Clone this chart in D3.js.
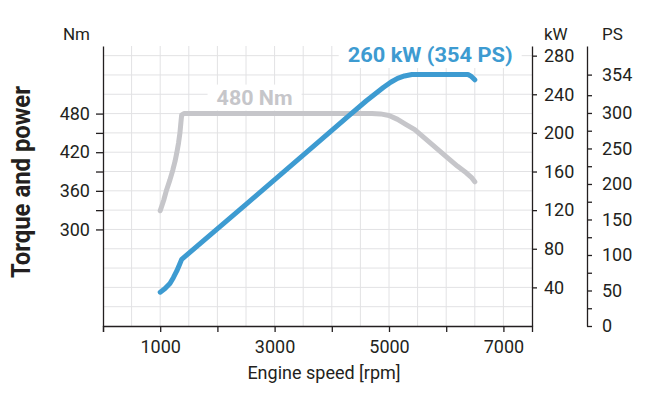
<!DOCTYPE html>
<html>
<head>
<meta charset="utf-8">
<script src="https://cdn.jsdelivr.net/npm/d3@7"></script>
<style>
  body { margin: 0; background: #fff; }
  text { font-family: Roboto, "Liberation Sans", sans-serif; fill: #231f20; }
</style>
</head>
<body>
<div id="plot"></div>
<script>
// torque curve (Nm) and power curve (kW) over engine speed
const torqueRpm = [1000, 1060, 1110, 1170, 1220, 1260, 1290, 1320, 1345, 1362, 1375, 1420, 4700, 4850, 5000, 5150, 5300, 5450, 5700, 6000, 6200, 6350, 6440, 6500];
const torqueNm  = [329, 345, 361, 377, 392, 406, 419, 434, 450, 466, 478, 480, 480, 479.5, 477, 471, 463, 455, 436, 413, 398, 388, 381, 374];

const powerRpm = [1000, 1080, 1170, 1230, 1290, 1340, 1375, 2500, 3500, 4300, 4600, 4750, 4900, 5030, 5150, 5270, 5400, 6380, 6440, 6500];
const powerKw  = [35, 38.5, 44, 50, 57, 64, 69, 126, 177, 218, 233, 240, 247, 252.5, 256.5, 259, 260.5, 260.5, 258.5, 255];

const rpmTicks = [0, 1000, 2000, 3000, 4000, 5000, 6000, 7000];
const rpmLabels = [1000, 3000, 5000, 7000];
const nmTicks = [300, 330, 360, 390, 420, 450, 480];
const nmLabels = [300, 360, 420, 480];
const kwTicks = [40, 80, 120, 160, 200, 240, 280];
const psTicks = [0, 25, 50, 75, 100, 125, 150, 175, 200, 225, 250, 275, 300, 325, 354];
const psLabels = [0, 50, 100, 150, 200, 250, 300, 354];

const w = 650;
const h = 395;
const margin = {top: 46, right: 118, bottom: 69, left: 103};
const innerWidth = w - margin.left - margin.right;
const innerHeight = h - margin.top - margin.bottom;

const blue = "#3d9bd1";
const grey = "#c6c6ca";
const ink = "#231f20";

const svg = d3.select("div#plot")
    .append("svg")
    .attr("width", w)
    .attr("height", h);

const xScale = d3.scaleLinear().domain([0, 7500]).range([0, innerWidth]);
const kwMax = 290;
const yKw = d3.scaleLinear().domain([0, kwMax]).range([innerHeight, 0]);
// 60 Nm per 40 kW, 150 Nm at the bottom
const yNm = d3.scaleLinear().domain([150, 150 + 1.5 * kwMax]).range([innerHeight, 0]);
const yPs = d3.scaleLinear().domain([0, kwMax * 1.35962]).range([innerHeight, 0]);

const plot = svg.append("g")
    .attr("transform", `translate (${margin.left}, ${margin.top})`);

// grid
plot.append("g")
  .selectAll("line")
  .data(d3.range(500, 7001, 500))
  .enter().append("line")
    .attr("x1", d => xScale(d))
    .attr("x2", d => xScale(d))
    .attr("y1", 0)
    .attr("y2", innerHeight)
    .attr("stroke", "#e2e2e4")
    .attr("stroke-width", 1);

plot.append("g")
  .selectAll("line")
  .data(d3.range(20, 281, 20))
  .enter().append("line")
    .attr("x1", 0)
    .attr("x2", innerWidth)
    .attr("y1", d => yKw(d))
    .attr("y2", d => yKw(d))
    .attr("stroke", "#e2e2e4")
    .attr("stroke-width", 1);

// curves
const torqueLine = d3.line()
    .x(d => xScale(d[0]))
    .y(d => yNm(d[1]));

const powerLine = d3.line()
    .x(d => xScale(d[0]))
    .y(d => yKw(d[1]));

plot.append("path")
    .datum(d3.zip(torqueRpm, torqueNm))
    .attr("d", torqueLine)
    .attr("fill", "none")
    .attr("stroke", grey)
    .attr("stroke-width", 5)
    .attr("stroke-linecap", "round")
    .attr("stroke-linejoin", "round");

plot.append("path")
    .datum(d3.zip(powerRpm, powerKw))
    .attr("d", powerLine)
    .attr("fill", "none")
    .attr("stroke", blue)
    .attr("stroke-width", 5)
    .attr("stroke-linecap", "round")
    .attr("stroke-linejoin", "round");

// curve labels on white boxes
function boxedLabel(x, y, str, color, len) {
  const g = plot.append("g");
  const rect = g.append("rect").attr("fill", "#fff");
  const t = g.append("text")
      .attr("x", x)
      .attr("y", y)
      .attr("text-anchor", "middle")
      .attr("font-size", 20)
      .attr("font-weight", "bold")
      .attr("textLength", len)
      .attr("lengthAdjust", "spacingAndGlyphs")
      .style("fill", color)
      .text(str);
  const b = t.node().getBBox();
  rect.attr("x", b.x - 9).attr("y", b.y - 1)
      .attr("width", b.width + 18).attr("height", b.height + 2);
}

boxedLabel(xScale(2650), yNm(480) - 9, "480 Nm", grey, 76);
boxedLabel(xScale(5720), yKw(260) - 13, "260 kW (354 PS)", blue, 165);

// axes
const xAxis = d3.axisBottom(xScale)
    .tickValues(rpmTicks)
    .tickSize(6)
    .tickSizeOuter(6)
    .tickPadding(8)
    .tickFormat(d => rpmLabels.includes(d) ? d : "");

const nmAxis = d3.axisLeft(yNm)
    .tickValues(nmTicks)
    .tickSize(7)
    .tickSizeOuter(0)
    .tickPadding(6)
    .tickFormat(d => nmLabels.includes(d) ? d : "");

const kwAxis = d3.axisRight(yKw)
    .tickValues(kwTicks)
    .tickSize(5)
    .tickSizeOuter(0)
    .tickPadding(7);

const psAxis = d3.axisRight(yPs)
    .tickValues(psTicks)
    .tickSize(5)
    .tickSizeOuter(0)
    .tickPadding(10)
    .tickFormat(d => psLabels.includes(d) ? d : "");

function styleAxis(g) {
  g.selectAll("path, line").attr("stroke", ink).attr("stroke-width", 1.3);
  g.selectAll("text")
      .attr("font-size", 18)
      .attr("font-family", "Roboto, sans-serif")
      .attr("fill", ink);
  // drop the blank labels of the minor ticks
  g.selectAll("text").filter(function() { return this.textContent === ""; }).remove();
}

svg.append("g")
    .attr("transform", `translate (${margin.left}, ${margin.top + innerHeight})`)
    .call(xAxis)
    .call(styleAxis);

svg.append("g")
    .attr("transform", `translate (${margin.left}, ${margin.top})`)
    .call(nmAxis)
    .call(styleAxis);

svg.append("g")
    .attr("transform", `translate (${margin.left + innerWidth}, ${margin.top})`)
    .call(kwAxis)
    .call(styleAxis);

svg.append("g")
    .attr("transform", `translate (${margin.left + innerWidth + 55}, ${margin.top})`)
    .call(psAxis)
    .call(styleAxis);

// titles
svg.append("text")
    .attr("x", 90)
    .attr("y", 40)
    .attr("text-anchor", "end")
    .attr("font-size", 17)
    .text("Nm");

svg.append("text")
    .attr("x", 544)
    .attr("y", 40)
    .attr("font-size", 17)
    .text("kW");

svg.append("text")
    .attr("x", 602)
    .attr("y", 40)
    .attr("font-size", 17)
    .text("PS");

svg.append("text")
    .attr("x", 324)
    .attr("y", 379)
    .attr("text-anchor", "middle")
    .attr("font-size", 18)
    .text("Engine speed [rpm]");

svg.append("text")
    .attr("transform", "translate (30, 182) rotate(-90)")
    .attr("text-anchor", "middle")
    .attr("font-size", 25)
    .attr("font-weight", "bold")
    .attr("textLength", 192)
    .attr("lengthAdjust", "spacingAndGlyphs")
    .text("Torque and power");
</script>
</body>
</html>
